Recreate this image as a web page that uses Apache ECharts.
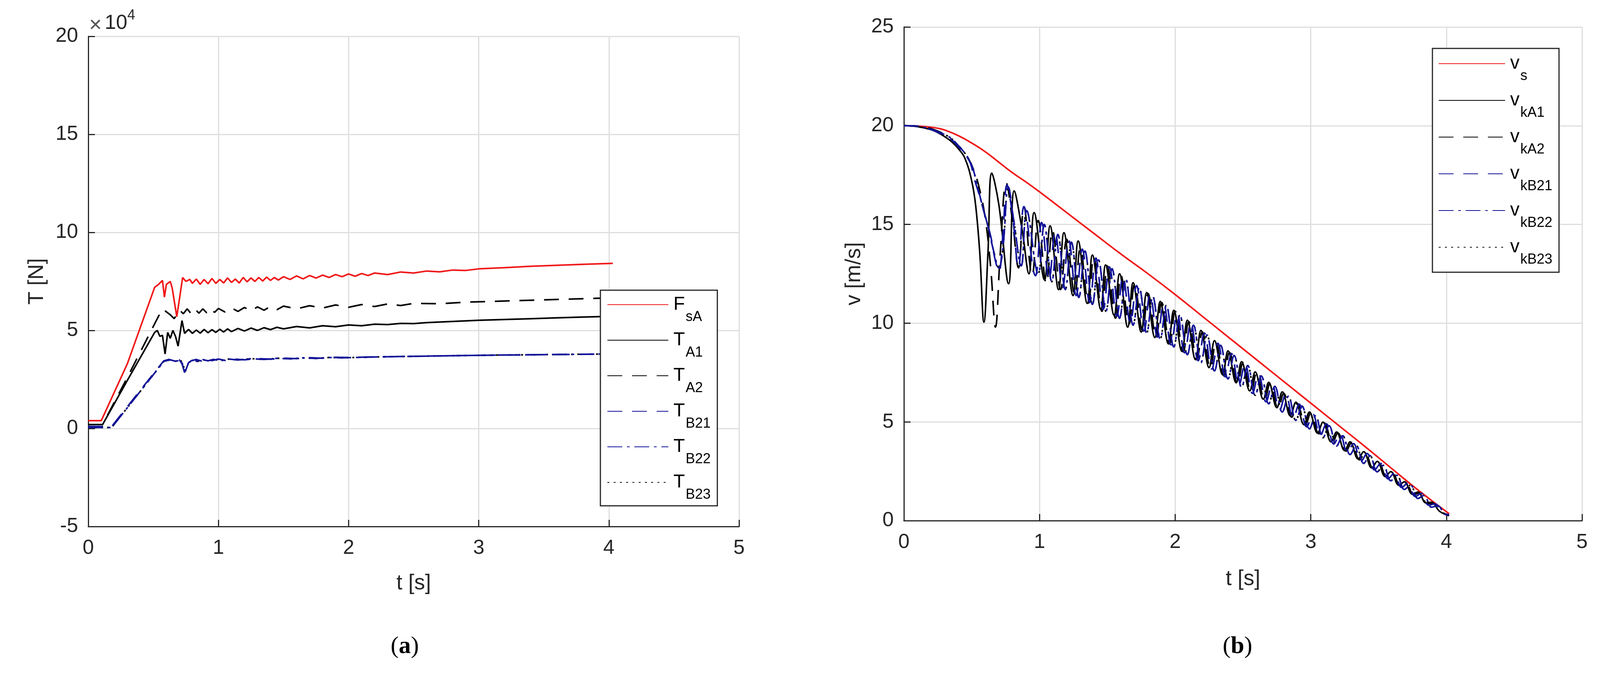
<!DOCTYPE html>
<html>
<head>
<meta charset="utf-8">
<title>Rope tension and velocity</title>
<script src="https://cdn.jsdelivr.net/npm/echarts@6/dist/echarts.min.js"></script>
<style>
  html, body { margin: 0; padding: 0; background: #fff; }
  #chart { width: 4113px; height: 1741px; }
</style>
</head>
<body>
<div id="chart"></div>
<script>
// ---------- (a) tension, values in 1e4 N ----------
var tFsA = [0, 0.1, 0.3, 0.51, 0.54, 0.57, 0.585, 0.6, 0.63, 0.645, 0.68, 0.725, 0.75, 0.78, 0.8, 0.83, 0.86, 0.89, 0.92, 0.95, 0.98, 1.01, 1.04, 1.07, 1.1, 1.13, 1.16, 1.19, 1.22, 1.25, 1.28, 1.31, 1.34, 1.37, 1.4, 1.43, 1.46, 1.5, 1.55, 1.6, 1.65, 1.7, 1.75, 1.8, 1.85, 1.9, 1.95, 2.0, 2.05, 2.1, 2.15, 2.2, 2.3, 2.4, 2.5, 2.6, 2.7, 2.8, 2.9, 3.0, 3.2, 3.4, 3.6, 3.8, 4.03];
var fsA  = [0.4, 0.4, 3.3, 7.2, 7.35, 7.55, 6.7, 7.35, 7.5, 7.15, 5.7, 7.7, 7.5, 7.6, 7.4, 7.62, 7.35, 7.6, 7.38, 7.65, 7.4, 7.6, 7.42, 7.68, 7.45, 7.62, 7.42, 7.7, 7.48, 7.68, 7.5, 7.7, 7.52, 7.72, 7.55, 7.7, 7.57, 7.74, 7.6, 7.78, 7.63, 7.8, 7.67, 7.82, 7.7, 7.85, 7.74, 7.88, 7.76, 7.9, 7.8, 7.93, 7.85, 7.98, 7.93, 8.03, 7.99, 8.08, 8.06, 8.14, 8.2, 8.27, 8.32, 8.37, 8.42];

var tTA1 = [0, 0.11, 0.3, 0.51, 0.53, 0.55, 0.57, 0.59, 0.61, 0.63, 0.65, 0.67, 0.69, 0.72, 0.74, 0.77, 0.8, 0.83, 0.86, 0.89, 0.92, 0.95, 0.98, 1.01, 1.04, 1.07, 1.1, 1.15, 1.2, 1.25, 1.3, 1.35, 1.4, 1.45, 1.5, 1.6, 1.7, 1.8, 1.9, 2.0, 2.1, 2.2, 2.3, 2.4, 2.5, 2.6, 2.8, 3.0, 3.2, 3.4, 3.6, 3.8, 4.03];
var tA1  = [0.2, 0.2, 2.45, 4.9, 5.0, 4.7, 4.75, 3.8, 4.9, 4.6, 5.0, 4.7, 4.2, 5.5, 4.85, 5.05, 4.85, 5.02, 4.86, 5.05, 4.88, 5.04, 4.9, 5.06, 4.92, 5.08, 4.94, 5.1, 4.97, 5.12, 5.0, 5.14, 5.04, 5.16, 5.08, 5.2, 5.13, 5.24, 5.19, 5.28, 5.24, 5.32, 5.3, 5.36, 5.35, 5.4, 5.46, 5.52, 5.56, 5.6, 5.64, 5.68, 5.72];

var tTA2 = [0, 0.11, 0.3, 0.53, 0.57, 0.6, 0.63, 0.66, 0.7, 0.73, 0.76, 0.79, 0.82, 0.85, 0.88, 0.91, 0.94, 0.97, 1.0, 1.05, 1.1, 1.15, 1.2, 1.25, 1.3, 1.35, 1.4, 1.45, 1.5, 1.6, 1.7, 1.8, 1.9, 2.0, 2.1, 2.2, 2.3, 2.4, 2.5, 2.7, 2.9, 3.1, 3.3, 3.5, 3.7, 3.9, 4.03];
var tA2  = [0.2, 0.2, 2.6, 5.6, 6.1, 5.95, 5.8, 5.6, 6.05, 5.85, 6.1, 5.85, 6.1, 5.88, 6.1, 5.9, 6.12, 5.92, 6.12, 5.94, 6.15, 5.97, 6.17, 6.0, 6.2, 6.03, 6.22, 6.06, 6.24, 6.1, 6.26, 6.14, 6.3, 6.18, 6.32, 6.22, 6.35, 6.27, 6.38, 6.36, 6.44, 6.48, 6.52, 6.56, 6.6, 6.64, 6.66];

var tTB21 = [0, 0.18, 0.4, 0.58, 0.62, 0.66, 0.7, 0.72, 0.74, 0.76, 0.79, 0.83, 0.87, 0.91, 0.95, 1.0, 1.05, 1.1, 1.2, 1.3, 1.4, 1.5, 1.6, 1.7, 1.8, 1.9, 2.0, 2.2, 2.4, 2.6, 2.8, 3.0, 3.3, 3.6, 4.03];
var tB21  = [0.1, 0.1, 1.95, 3.45, 3.52, 3.45, 3.5, 3.3, 2.85, 3.3, 3.45, 3.52, 3.44, 3.53, 3.46, 3.54, 3.47, 3.55, 3.5, 3.57, 3.53, 3.59, 3.56, 3.61, 3.58, 3.63, 3.62, 3.65, 3.67, 3.69, 3.71, 3.73, 3.75, 3.77, 3.8];

var tTB22 = [0, 0.18, 0.4, 0.58, 0.63, 0.67, 0.71, 0.73, 0.745, 0.77, 0.8, 0.84, 0.88, 0.92, 0.96, 1.02, 1.08, 1.15, 1.25, 1.35, 1.45, 1.55, 1.65, 1.75, 1.85, 1.95, 2.1, 2.3, 2.5, 2.7, 2.9, 3.1, 3.4, 3.7, 4.03];
var tB22  = [0.05, 0.05, 1.9, 3.42, 3.5, 3.43, 3.48, 3.2, 2.9, 3.35, 3.48, 3.42, 3.51, 3.45, 3.52, 3.46, 3.54, 3.49, 3.56, 3.52, 3.58, 3.55, 3.6, 3.57, 3.62, 3.6, 3.63, 3.66, 3.68, 3.7, 3.72, 3.74, 3.76, 3.78, 3.8];

// T_B23 is hidden under T_B22 in the figure
var tTB23 = tTB22;
var tB23  = tB22;

// ---------- (b) velocity, m/s ----------
var tVs = [0, 0.1, 0.2, 0.25, 0.3, 0.4, 0.5, 0.6, 0.7, 0.8, 0.9, 1.0, 1.2, 1.4, 1.6, 1.8, 2.0, 2.2, 2.4, 2.6, 2.8, 3.0, 3.2, 3.4, 3.6, 3.8, 4.02];
var vS  = [20.0, 19.98, 19.92, 19.87, 19.78, 19.5, 19.12, 18.68, 18.15, 17.62, 17.15, 16.65, 15.6, 14.55, 13.5, 12.5, 11.45, 10.35, 9.25, 8.15, 7.05, 5.95, 4.85, 3.75, 2.62, 1.5, 0.35];

var tKA1 = [0, 0.1, 0.2, 0.25, 0.3, 0.35, 0.4, 0.45, 0.5, 0.53, 0.56, 0.59, 0.62, 0.648, 0.70, 0.772, 0.813, 0.87, 0.922, 0.96, 1.037, 1.078, 1.14, 1.18, 1.247, 1.285, 1.352, 1.39, 1.452, 1.487, 1.55, 1.59, 1.65, 1.69, 1.75, 1.79, 1.85, 1.89, 1.95, 1.99, 2.05, 2.09, 2.15, 2.19, 2.25, 2.29, 2.35, 2.39, 2.45, 2.49, 2.55, 2.59, 2.65, 2.69, 2.75, 2.79, 2.85, 2.89, 2.95, 2.99, 3.05, 3.09, 3.15, 3.19, 3.25, 3.29, 3.35, 3.39, 3.45, 3.49, 3.55, 3.59, 3.65, 3.69, 3.75, 3.79, 3.85, 3.89, 3.95, 4.02];
var vKA1 = [20.0, 19.95, 19.8, 19.65, 19.45, 19.2, 18.85, 18.35, 17.2, 15.9, 13.5, 10.05, 13.6, 17.6, 16.0, 12.0, 16.7, 14.8, 12.5, 15.6, 12.2, 14.93, 11.7, 14.58, 11.4, 14.16, 11.0, 13.45, 10.7, 12.95, 10.4, 12.5, 9.8, 12.05, 9.55, 11.55, 9.27, 11.1, 8.95, 10.65, 8.57, 10.15, 8.15, 9.63, 7.75, 9.12, 7.39, 8.6, 6.98, 8.05, 6.57, 7.53, 6.15, 7.0, 5.72, 6.52, 5.3, 6.0, 4.86, 5.5, 4.43, 4.99, 3.99, 4.49, 3.55, 3.99, 3.12, 3.49, 2.67, 3.0, 2.23, 2.48, 1.79, 1.97, 1.34, 1.45, 0.9, 0.93, 0.47, 0.25];

var tKA2 = [0, 0.1, 0.2, 0.3, 0.4, 0.45, 0.5, 0.55, 0.6, 0.64, 0.675, 0.71, 0.755, 0.8, 0.845, 0.885, 0.945, 0.99, 1.05, 1.095, 1.155, 1.2, 1.26, 1.3, 1.36, 1.4, 1.46, 1.5, 1.56, 1.6, 1.66, 1.7, 1.76, 1.8, 1.86, 1.9, 1.96, 2.0, 2.06, 2.1, 2.16, 2.2, 2.26, 2.3, 2.36, 2.4, 2.46, 2.5, 2.56, 2.6, 2.66, 2.7, 2.76, 2.8, 2.86, 2.9, 2.96, 3.0, 3.06, 3.1, 3.16, 3.2, 3.26, 3.3, 3.36, 3.4, 3.46, 3.5, 3.56, 3.6, 3.66, 3.7, 3.76, 3.8, 3.86, 3.9, 3.96, 4.02];
var vKA2 = [20.0, 19.98, 19.85, 19.55, 19.0, 18.6, 18.0, 17.0, 15.3, 12.8, 9.8, 13.5, 17.1, 15.2, 12.8, 15.9, 12.4, 15.2, 12.0, 14.7, 11.7, 14.25, 11.4, 13.8, 11.0, 13.35, 10.6, 12.9, 10.25, 12.42, 9.95, 11.96, 9.6, 11.5, 9.25, 11.05, 8.95, 10.6, 8.55, 10.08, 8.15, 9.56, 7.72, 9.04, 7.33, 8.52, 6.92, 8.0, 6.5, 7.48, 6.1, 6.96, 5.67, 6.45, 5.24, 5.94, 4.83, 5.45, 4.4, 4.94, 3.96, 4.44, 3.52, 3.94, 3.08, 3.44, 2.65, 2.95, 2.2, 2.43, 1.78, 1.92, 1.31, 1.4, 0.86, 0.88, 0.45, 0.28];

var tKB21 = [0, 0.1, 0.2, 0.3, 0.35, 0.4, 0.45, 0.49, 0.52, 0.56, 0.6, 0.64, 0.67, 0.70, 0.73, 0.76, 0.8, 0.845, 0.885, 0.97, 1.015, 1.07, 1.115, 1.17, 1.215, 1.27, 1.315, 1.37, 1.415, 1.47, 1.515, 1.57, 1.615, 1.67, 1.715, 1.77, 1.815, 1.87, 1.915, 1.97, 2.015, 2.07, 2.115, 2.17, 2.215, 2.27, 2.315, 2.37, 2.415, 2.47, 2.515, 2.57, 2.615, 2.67, 2.715, 2.77, 2.815, 2.87, 2.915, 2.97, 3.015, 3.07, 3.115, 3.17, 3.215, 3.27, 3.315, 3.37, 3.415, 3.47, 3.515, 3.57, 3.615, 3.67, 3.715, 3.77, 3.815, 3.87, 3.915, 3.97, 4.02];
var vKB21 = [20.0, 19.97, 19.8, 19.5, 19.3, 18.95, 18.55, 18.1, 17.3, 16.4, 15.4, 14.4, 13.3, 12.6, 14.5, 17.0, 15.5, 12.8, 15.9, 12.4, 15.1, 12.2, 14.6, 11.8, 14.2, 11.4, 13.75, 11.05, 13.3, 10.7, 12.85, 10.35, 12.35, 10.0, 11.9, 9.6, 11.45, 9.3, 11.0, 8.9, 10.5, 8.5, 10.0, 8.1, 9.5, 7.68, 8.98, 7.28, 8.46, 6.85, 7.95, 6.45, 7.43, 6.02, 6.9, 5.6, 6.4, 5.18, 5.9, 4.75, 5.4, 4.3, 4.9, 3.88, 4.4, 3.45, 3.9, 3.0, 3.4, 2.57, 2.9, 2.12, 2.4, 1.68, 1.9, 1.22, 1.38, 0.78, 0.85, 0.4, 0.3];

var tKB22 = [0, 0.1, 0.2, 0.3, 0.35, 0.4, 0.45, 0.5, 0.54, 0.58, 0.62, 0.66, 0.70, 0.73, 0.77, 0.81, 0.865, 0.905, 0.99, 1.035, 1.09, 1.135, 1.19, 1.235, 1.29, 1.335, 1.39, 1.435, 1.49, 1.535, 1.59, 1.635, 1.69, 1.735, 1.79, 1.835, 1.89, 1.935, 1.99, 2.035, 2.09, 2.135, 2.19, 2.235, 2.29, 2.335, 2.39, 2.435, 2.49, 2.535, 2.59, 2.635, 2.69, 2.735, 2.79, 2.835, 2.89, 2.935, 2.99, 3.035, 3.09, 3.135, 3.19, 3.235, 3.29, 3.335, 3.39, 3.435, 3.49, 3.535, 3.59, 3.635, 3.69, 3.735, 3.79, 3.835, 3.89, 3.935, 3.99, 4.02];
var vKB22 = [20.0, 19.97, 19.82, 19.55, 19.35, 19.0, 18.6, 18.0, 17.0, 15.9, 14.9, 13.7, 12.8, 13.8, 16.9, 15.2, 12.9, 15.7, 12.5, 15.0, 12.1, 14.5, 11.7, 14.1, 11.3, 13.65, 10.95, 13.2, 10.6, 12.75, 10.25, 12.25, 9.9, 11.8, 9.5, 11.35, 9.2, 10.9, 8.8, 10.4, 8.4, 9.9, 8.0, 9.4, 7.58, 8.88, 7.18, 8.36, 6.75, 7.85, 6.35, 7.33, 5.92, 6.8, 5.5, 6.3, 5.08, 5.8, 4.65, 5.3, 4.2, 4.8, 3.78, 4.3, 3.35, 3.8, 2.9, 3.3, 2.47, 2.8, 2.02, 2.3, 1.58, 1.8, 1.12, 1.28, 0.68, 0.75, 0.32, 0.28];

// v_kB23 lies under v_kB22
var tKB23 = tKB22;
var vKB23 = vKB22;

// legend labels: main letter + subscript
var labelsA = { FsA: ['F', 'sA'], TA1: ['T', 'A1'], TA2: ['T', 'A2'], TB21: ['T', 'B21'], TB22: ['T', 'B22'], TB23: ['T', 'B23'] };
var labelsB = { vs: ['v', 's'], vkA1: ['v', 'kA1'], vkA2: ['v', 'kA2'], vkB21: ['v', 'kB21'], vkB22: ['v', 'kB22'], vkB23: ['v', 'kB23'] };

var FONT = '"Liberation Sans", Arial, sans-serif';
var SERIF = '"Liberation Serif", "Times New Roman", serif';
var AXIS = '#262626';
var GRIDC = '#dedede';
var RED = '#f01818';
var BLUE = '#12129a';
var BLACK = '#000000';
var DASH = [38, 25];
var DASHDOT = [38, 12, 7, 12];
var DOT = [5, 11];

function zip(ts, vs) {
  var out = [];
  for (var i = 0; i < ts.length; i++) out.push([ts[i], vs[i]]);
  return out;
}

function xAxisFor(idx, gap) {
  return {
    type: 'value', gridIndex: idx, min: 0, max: 5, interval: 1,
    name: 't [s]', nameLocation: 'middle', nameGap: gap,
    nameTextStyle: { fontSize: 55, color: AXIS, fontFamily: FONT },
    axisLine: { show: true, onZero: false, lineStyle: { color: AXIS, width: 3 } },
    axisTick: { show: true, inside: true, length: 17, lineStyle: { color: AXIS, width: 3 } },
    axisLabel: { fontSize: 52, color: AXIS, margin: 30, fontFamily: FONT },
    splitLine: { show: true, lineStyle: { color: GRIDC, width: 3 } }
  };
}

function yAxisFor(idx, min, max, name, gap) {
  return {
    type: 'value', gridIndex: idx, min: min, max: max, interval: 5,
    name: name, nameLocation: 'middle', nameGap: gap,
    nameTextStyle: { fontSize: 55, color: AXIS, fontFamily: FONT },
    axisLine: { show: true, onZero: false, lineStyle: { color: AXIS, width: 3 } },
    axisTick: { show: true, inside: true, length: 17, lineStyle: { color: AXIS, width: 3 } },
    axisLabel: { fontSize: 52, color: AXIS, margin: 26, fontFamily: FONT },
    splitLine: { show: true, lineStyle: { color: GRIDC, width: 3 } }
  };
}

function line(name, idx, data, color, dash, smooth, z) {
  return {
    name: name, type: 'line', xAxisIndex: idx, yAxisIndex: idx,
    data: data, symbol: 'none', smooth: smooth, animation: false, z: z || 2,
    lineStyle: { color: color, width: 4, type: dash || 'solid' },
    itemStyle: { color: color }
  };
}

function legendFor(names, labels, left, top, iconW, pad, gap) {
  return {
    orient: 'vertical', left: left, top: top, padding: pad,
    itemWidth: iconW, itemHeight: 20, itemGap: gap, selectedMode: false,
    backgroundColor: '#fff', borderColor: AXIS, borderWidth: 3, borderRadius: 0,
    // hide the marker dot, keep the line sample
    itemStyle: { opacity: 0, borderWidth: 0 },
    data: names,
    formatter: function (n) { return '{m|' + labels[n][0] + '}{s|' + labels[n][1] + '}'; },
    textStyle: {
      color: BLACK, fontFamily: FONT,
      rich: {
        m: { fontSize: 48, lineHeight: 48, verticalAlign: 'top', fontFamily: FONT, color: BLACK, padding: [0, 0, 0, 8] },
        s: { fontSize: 36, lineHeight: 36, verticalAlign: 'top', fontFamily: FONT, color: BLACK, padding: [38, 0, 0, 2] }
      }
    }
  };
}

var chart = echarts.init(document.getElementById('chart'), null, { renderer: 'canvas' });

chart.setOption({
  backgroundColor: '#fff',
  animation: false,
  grid: [
    { left: 226, top: 93, width: 1666, height: 1255 },
    { left: 2314, top: 69, width: 1736, height: 1264 }
  ],
  xAxis: [xAxisFor(0, 118), xAxisFor(1, 122)],
  yAxis: [yAxisFor(0, -5, 20, 'T [N]', 104), yAxisFor(1, 0, 25, 'v [m/s]', 100)],
  legend: [
    legendFor(['FsA', 'TA1', 'TA2', 'TB21', 'TB22', 'TB23'], labelsA, 1537, 743, 156, [13, 17, 10, 17], 17),
    legendFor(['vs', 'vkA1', 'vkA2', 'vkB21', 'vkB22', 'vkB23'], labelsB, 3667, 124, 170, [15, 17, 14, 15], 20)
  ],
  graphic: [
    { type: 'text', left: 228, top: 38, style: { text: '×', font: '56px ' + FONT, fill: '#555' } },
    { type: 'text', left: 268, top: 34, style: { text: '10', font: '52px ' + FONT, fill: AXIS } },
    { type: 'text', left: 326, top: 22, style: { text: '4', font: '36px ' + FONT, fill: AXIS } },
    {
      type: 'text', left: 1000, top: 1625,
      style: {
        text: '({b|a})', font: '62px ' + SERIF, fill: BLACK,
        rich: { b: { fontSize: 62, fontWeight: 'bold', fontFamily: SERIF } }
      }
    },
    {
      type: 'text', left: 3130, top: 1625,
      style: {
        text: '({b|b})', font: '62px ' + SERIF, fill: BLACK,
        rich: { b: { fontSize: 62, fontWeight: 'bold', fontFamily: SERIF } }
      }
    }
  ],
  series: [
    line('TB23', 0, zip(tTB23, tB23), BLACK, DOT, false, 1),
    line('FsA', 0, zip(tFsA, fsA), RED, null, false),
    line('TA1', 0, zip(tTA1, tA1), BLACK, null, false),
    line('TA2', 0, zip(tTA2, tA2), BLACK, DASH, false),
    line('TB21', 0, zip(tTB21, tB21), BLUE, DASH, false),
    line('TB22', 0, zip(tTB22, tB22), BLUE, DASHDOT, false),

    line('vkB23', 1, zip(tKB23, vKB23), BLACK, DOT, 0.4, 1),
    line('vs', 1, zip(tVs, vS), RED, null, 0.5),
    line('vkA1', 1, zip(tKA1, vKA1), BLACK, null, 0.4),
    line('vkA2', 1, zip(tKA2, vKA2), BLACK, DASH, 0.4),
    line('vkB21', 1, zip(tKB21, vKB21), BLUE, DASH, 0.4),
    line('vkB22', 1, zip(tKB22, vKB22), BLUE, DASHDOT, 0.4)
  ]
});
</script>
</body>
</html>
